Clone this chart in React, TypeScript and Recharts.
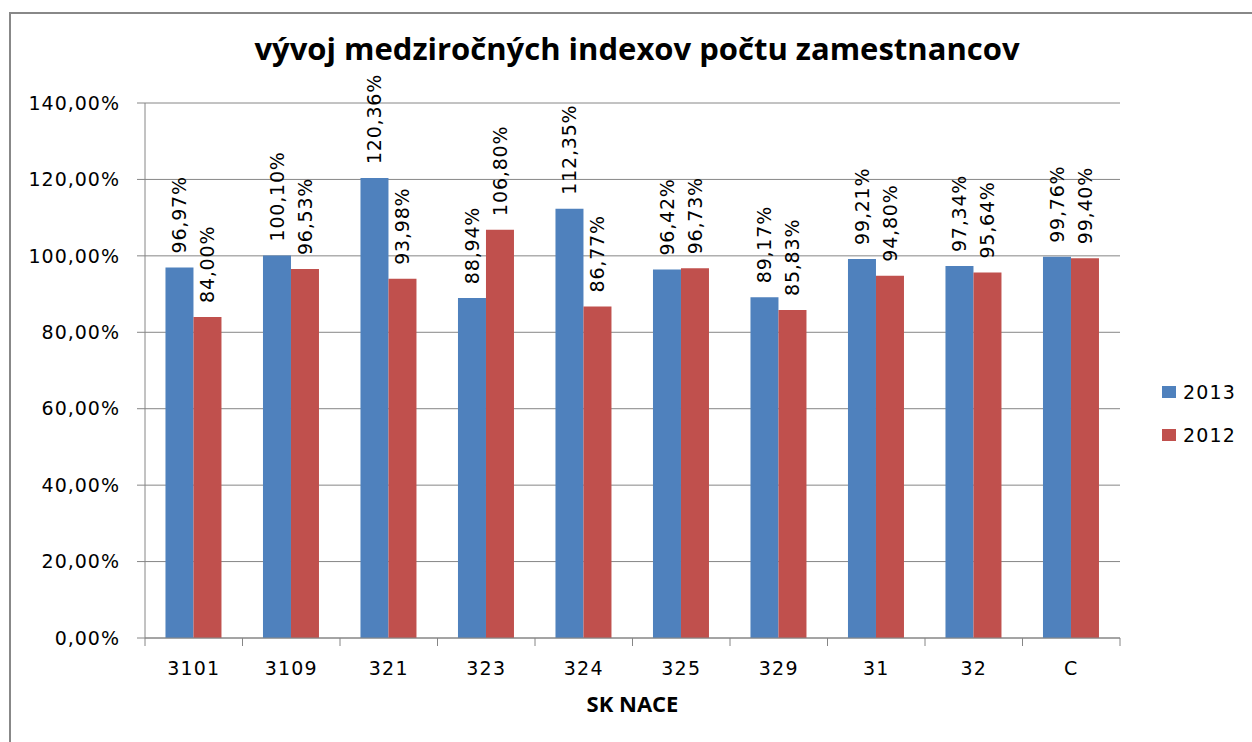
import React from 'react';
import { BarChart, Bar, XAxis, YAxis, CartesianGrid, Legend, LabelList } from 'recharts';

const categories = ['3101', '3109', '321', '323', '324', '325', '329', '31', '32', 'C'];
const values2013 = [96.97, 100.1, 120.36, 88.94, 112.35, 96.42, 89.17, 99.21, 97.34, 99.76];
const values2012 = [84.0, 96.53, 93.98, 106.8, 86.77, 96.73, 85.83, 94.8, 95.64, 99.4];
const yTicks = [0, 20, 40, 60, 80, 100, 120, 140];
const seriesNames = ['2013', '2012'];
const seriesColors = ['#4F81BD', '#C0504D'];

const data = categories.map((c, i) => ({ cat: c, s2013: values2013[i], s2012: values2012[i] }));

const W = 1252;
const H = 742;
const MARGIN = { top: 103, right: 132, bottom: 24, left: 45 };
const YAXIS_W = 100;
const XAXIS_H = 80;
const PLOT_W = W - MARGIN.left - YAXIS_W - MARGIN.right;
const PLOT_BOTTOM = H - MARGIN.bottom - XAXIS_H;
const STEP = PLOT_W / categories.length;
const FONT = '"DejaVu Sans", sans-serif';
const GRAY = '#868686';

const fmt = (v: number) => v.toFixed(2).replace('.', ',') + '%';

const XTick = (props: any) => {
  const { x, index, payload } = props;
  const left = x - STEP / 2;
  const right = x + STEP / 2;
  return (
    <g>
      <line x1={left} y1={PLOT_BOTTOM} x2={left} y2={PLOT_BOTTOM + 8} stroke={GRAY} strokeWidth={1} />
      {index === categories.length - 1 && (
        <line x1={right} y1={PLOT_BOTTOM} x2={right} y2={PLOT_BOTTOM + 8} stroke={GRAY} strokeWidth={1} />
      )}
      <text
        x={x}
        y={PLOT_BOTTOM + 37}
        textAnchor="middle"
        fill="#000"
        fontFamily={FONT}
        fontSize={19}
        style={{ letterSpacing: '1.2px' }}
      >
        {payload.value}
      </text>
    </g>
  );
};

const RotLabel = (props: any) => {
  const { x, y, width, value } = props;
  const cx = x + width / 2;
  const sy = y - 14;
  return (
    <text
      x={cx}
      y={sy}
      transform={`rotate(-90, ${cx}, ${sy})`}
      textAnchor="start"
      dominantBaseline="central"
      fill="#000"
      fontFamily={FONT}
      fontSize={19}
      style={{ letterSpacing: '0.8px' }}
    >
      {fmt(value)}
    </text>
  );
};

const LegendContent = () => (
  <div style={{ fontFamily: FONT, fontSize: 19, color: '#000' }}>
    {seriesNames.map((n, i) => (
      <div key={n} style={{ display: 'flex', alignItems: 'center', height: 43 }}>
        <div style={{ width: 14, height: 12, background: seriesColors[i], marginRight: 7 }} />
        <span style={{ letterSpacing: '1.2px' }}>{n}</span>
      </div>
    ))}
  </div>
);

export default function App() {
  return (
    <div style={{ position: 'absolute', left: 0, top: 0, width: W, height: H, background: '#fff', overflow: 'hidden' }}>
      <div
        style={{
          position: 'absolute',
          left: 9,
          top: 12,
          width: 1400,
          height: 900,
          borderLeft: '2px solid #888',
          borderTop: '2px solid #888',
        }}
      />
      <div
        style={{
          position: 'absolute',
          left: 0,
          width: 1274,
          top: 27,
          textAlign: 'center',
          fontFamily: '"Open Sans", sans-serif',
          fontWeight: 700,
          fontSize: 31,
          lineHeight: '42px',
          color: '#000',
        }}
      >
        vývoj medziročných indexov počtu zamestnancov
      </div>
      <BarChart
        width={W}
        height={H}
        data={data}
        margin={MARGIN}
        barCategoryGap="21%"
        barGap={0}
        style={{ position: 'absolute', left: 0, top: 0 }}
      >
        <CartesianGrid vertical={false} stroke={GRAY} strokeWidth={1} />
        <XAxis
          dataKey="cat"
          height={XAXIS_H}
          stroke={GRAY}
          tickLine={false}
          tick={<XTick />}
          interval={0}
          label={{
            value: 'SK NACE',
            position: 'insideBottom',
            offset: 6,
            style: { fontFamily: '"Open Sans", sans-serif', fontWeight: 700, fontSize: 22, fill: '#000' },
          }}
        />
        <YAxis
          width={YAXIS_W}
          domain={[0, 140]}
          ticks={yTicks}
          interval={0}
          tickFormatter={fmt}
          stroke={GRAY}
          tickSize={8}
          tickMargin={17}
          tick={{ fill: '#000', fontSize: 19, fontFamily: FONT, style: { letterSpacing: '1px' } }}
        />
        <Legend
          layout="vertical"
          align="center"
          verticalAlign="middle"
          content={<LegendContent />}
          wrapperStyle={{ position: 'absolute', left: 1162, top: 370, width: 90 }}
        />
        <Bar dataKey="s2013" name={seriesNames[0]} fill={seriesColors[0]} isAnimationActive={false}>
          <LabelList dataKey="s2013" content={<RotLabel />} />
        </Bar>
        <Bar dataKey="s2012" name={seriesNames[1]} fill={seriesColors[1]} isAnimationActive={false}>
          <LabelList dataKey="s2012" content={<RotLabel />} />
        </Bar>
      </BarChart>
    </div>
  );
}
